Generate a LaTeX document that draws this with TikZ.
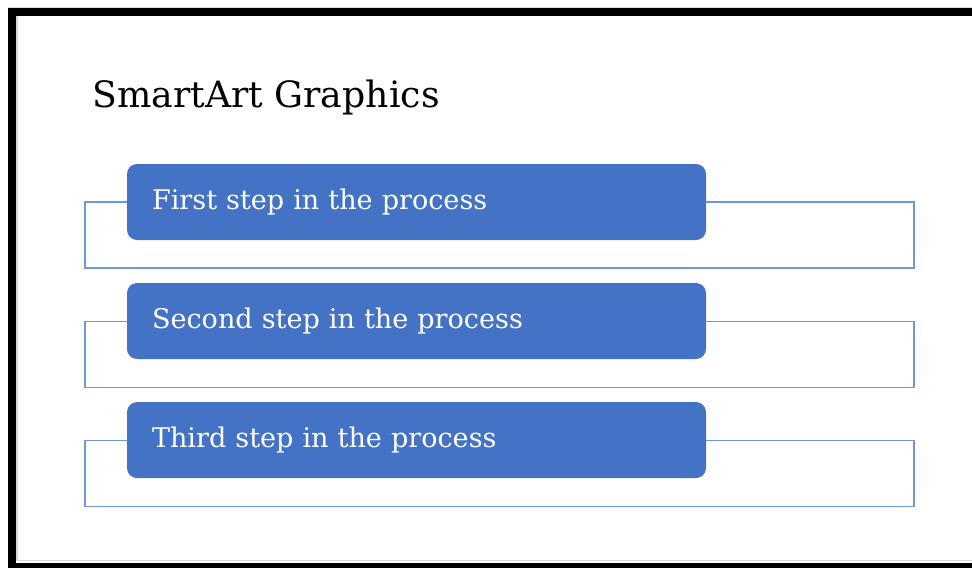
\documentclass[tikz,border=0pt]{standalone}
\usepackage{fontspec}
\setmainfont{DejaVu Serif}
\usetikzlibrary{positioning,backgrounds}
\definecolor{stepblue}{HTML}{4472C4}
\definecolor{frameblue}{HTML}{7096D6}
\definecolor{rimgray}{HTML}{D9D9D9}

\begin{document}
\begin{tikzpicture}[
    x=0.75pt, y=-0.75pt,
    node distance=31.875pt,
    stepbox/.style={
        rectangle,
        fill=stepblue,
        rounded corners=7.5pt,
        minimum width=434.25pt,
        minimum height=57pt,
        text width=396.75pt,
        inner xsep=18.75pt,
        inner ysep=0pt,
        align=left,
        text=white,
        font=\fontsize{20.3}{24}\selectfont
    },
    bracket/.style={draw=frameblue, line width=0.8pt}
]
\useasboundingbox (0,0) rectangle (972,568);

% Border
\fill[rimgray] (8,7) rectangle (972,8);
\fill[black] (8,8) rectangle (972,16);
\fill[black] (8,8) rectangle (16,568);
\fill[black] (8,563) rectangle (972,568);
\draw[rimgray, line width=1.2pt] (17,16) -- (17,560.5) -- (972,560.5);

% Nodes
\node[anchor=base west, inner sep=0pt, font=\fontsize{27.2}{32}\selectfont] (title) at (92,107) {SmartArt Graphics};

\node[stepbox] (step1) at (416.5,202) {First step in the process};
\node[stepbox, below=of step1] (step2) {Second step in the process};
\node[stepbox, below=of step2] (step3) {Third step in the process};

\coordinate (lft) at (85,0);

% Frames
\begin{pgfonlayer}{background}
\foreach \s in {step1,step2,step3}
    \draw[bracket] (lft |- \s.center) rectangle ++(829,66);
\end{pgfonlayer}

\end{tikzpicture}
\end{document}
